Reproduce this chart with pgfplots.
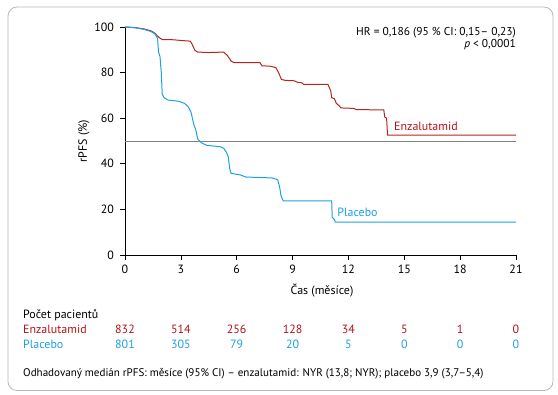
\documentclass[border=0pt]{standalone}
\usepackage{fontspec}
\setmainfont{PT Sans}
\usepackage{pgfplots}
\pgfplotsset{compat=1.18}
\definecolor{enz}{HTML}{B5121B}
\definecolor{enzline}{HTML}{B3261E}
\definecolor{plc}{HTML}{1BA1E2}
\newcommand{\fs}{\fontsize{12}{14}\selectfont}
\begin{document}
\begin{tikzpicture}[font=\fs]
\path (0bp,0bp) rectangle (558bp,395bp);
\draw[gray!55, line width=0.8bp, rounded corners=9bp] (8bp,4.5bp) rectangle (553bp,388bp);
\begin{axis}[at={(125bp,140bp)}, anchor=south west, scale only axis,
  width=391bp, height=228bp,
  xmin=0, xmax=21, ymin=0, ymax=100,
  axis x line*=bottom, axis y line*=left,
  xtick={0,3,...,21}, ytick={0,20,...,100},
  tick align=outside, major tick length=5bp,
  tick style={black, line width=0.6bp},
  axis line style={black, line width=0.6bp},
  /pgf/number format/assume math mode=true,
  ticklabel style={font=\fs},
  xticklabel style={yshift=-1.5bp},
  yticklabel style={xshift=-2.5bp},
  clip=false]
\addplot[gray, line width=0.8bp] coordinates {(0,50) (21,50)};
\addplot[enzline, line width=1bp] coordinates {
(0,100) (0.5,99.8) (1.0,99.2) (1.4,98.3) (1.6,97.3) (1.75,96) (1.9,95) (2.0,94.5)
(2.6,94.4) (3.0,94.1) (3.5,93.8) (3.6,92.5) (3.75,89.8) (3.9,89) (4.5,88.8) (5.3,89)
(5.5,87.5) (5.7,85) (5.85,84.4) (7.25,84.4) (7.35,83) (7.8,82.8) (8.1,82.2) (8.25,80)
(8.4,77) (8.6,76.6) (9.1,76.4) (9.25,75.8) (9.5,75.5) (9.6,74.8) (10.9,74.8) (11.05,72)
(11.1,69) (11.25,68.5) (11.35,66.5) (11.5,65.5) (11.6,64.5) (12.3,64.3) (12.4,63.8)
(13.9,63.6) (13.95,60.5) (14.05,60) (14.1,52.6) (21,52.6)};
\addplot[plc, line width=1bp] coordinates {
(0,100) (0.5,99.7) (1.0,99) (1.4,98) (1.6,97) (1.75,95) (1.8,89) (1.88,87) (1.95,80)
(2.0,70.5) (2.1,69) (2.3,68) (2.9,67.4) (3.2,66.5) (3.4,65) (3.55,62.5) (3.7,57)
(3.8,55) (3.9,51) (4.0,50) (4.15,49) (4.4,48.1) (5.1,47.5) (5.3,46.8) (5.45,45)
(5.55,43) (5.62,38) (5.7,35.8) (6.2,35.1) (6.5,34.2) (7.9,33.8) (8.2,33) (8.3,30)
(8.38,26) (8.5,23.7) (11.1,23.7) (11.13,16.5) (11.25,15.5) (11.3,14.4) (21,14.4)};
\node[enz, anchor=west, inner sep=0pt] at (axis cs:14.45,56.3) {Enzalutamid};
\node[plc, anchor=west, inner sep=0pt] at (axis cs:11.4,18.6) {Placebo};
\node[anchor=east, inner sep=0pt, font=\fontsize{11.5}{13}\selectfont] at (axis cs:21,97.5) {HR = 0,186 (95 \% CI: 0,15– 0,23)};
\node[anchor=east, inner sep=0pt, font=\fontsize{11.5}{13}\selectfont] at (axis cs:21,92.4) {\textit{p} < 0,0001};
\end{axis}
\node[inner sep=0pt] at (322bp,104bp) {Čas (měsíce)};
\node[inner sep=0pt, rotate=90] at (84bp,254bp) {rPFS (\%)};
\node[anchor=west, inner sep=0pt] at (23bp,79.3bp) {Počet pacientů};
\node[anchor=west, inner sep=0pt, enz] at (23bp,66bp) {Enzalutamid};
\node[anchor=west, inner sep=0pt, plc] at (23bp,51bp) {Placebo};
\foreach \x/\a/\b in {0/832/801, 3/514/305, 6/256/79, 9/128/20, 12/34/5, 15/5/0, 18/1/0, 21/0/0} {
  \node[inner sep=0pt, enz] at ({125bp+\x*18.619bp},66bp) {\a};
  \node[inner sep=0pt, plc] at ({125bp+\x*18.619bp},51bp) {\b};
}
\node[anchor=west, inner sep=0pt, font=\fontsize{11.1}{13}\selectfont] at (23bp,21bp) {Odhadovaný medián rPFS: měsíce (95\% CI) – enzalutamid: NYR (13,8; NYR); placebo 3,9 (3,7–5,4)};
\end{tikzpicture}
\end{document}
